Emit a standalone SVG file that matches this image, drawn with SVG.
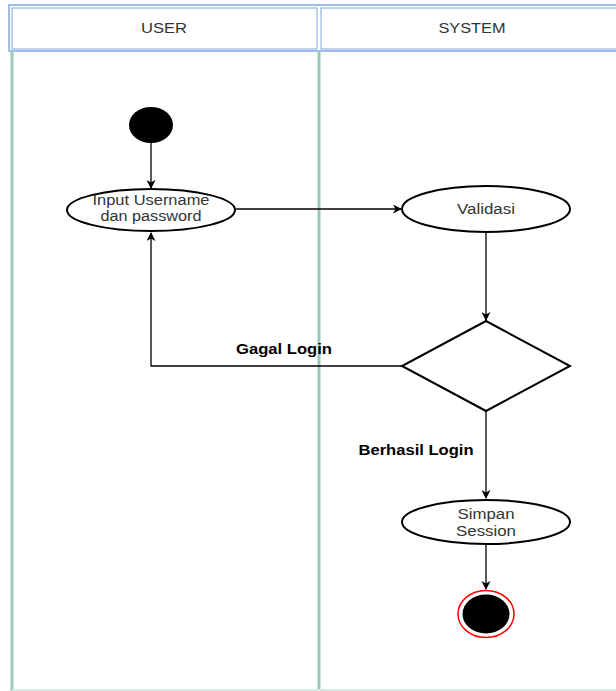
<svg xmlns="http://www.w3.org/2000/svg" width="616" height="691" viewBox="0 0 616 691">
<defs>
<style>
.hdr{fill:#fff;stroke:#7ea6e0;stroke-width:1}
.lane{stroke:#9ac7be;stroke-width:3}
.node{fill:#fff;stroke:#000;stroke-width:2}
.txt{font-family:"Liberation Sans",Arial,sans-serif;font-size:14px;fill:#333;text-anchor:middle}
.lbl{font-family:"Liberation Sans",Arial,sans-serif;font-size:14px;font-weight:bold;fill:#000;text-anchor:middle}
.edge{fill:none;stroke:#000;stroke-width:1.3}
</style>
<marker id="arr" viewBox="0 0 10 10" refX="9" refY="5" markerWidth="9" markerHeight="9" markerUnits="userSpaceOnUse" orient="auto">
<path d="M0,0 L10,5 L0,10 L3,5 Z" fill="#000"/>
</marker>
</defs>
<rect x="0" y="0" width="616" height="691" fill="#fff"/>
<g id="lanes">
<rect x="9" y="5" width="610" height="46" fill="none" stroke="#7ea6e0" stroke-width="1.5"/>
<line class="lane" x1="12" y1="51" x2="12" y2="691"/>
<line class="lane" x1="319" y1="51" x2="319" y2="691"/>
<line x1="12" y1="690" x2="616" y2="690" stroke="#d6ebe6" stroke-width="2"/>
</g>
<g id="header-user">
<rect class="hdr" x="12" y="8" width="305" height="41"/>
<text class="txt" x="164" y="33" textLength="46" lengthAdjust="spacingAndGlyphs">USER</text>
</g>
<g id="header-system">
<rect class="hdr" x="321" y="8" width="300" height="41"/>
<text class="txt" x="472" y="33" textLength="67" lengthAdjust="spacingAndGlyphs">SYSTEM</text>
</g>
<g id="connectors">
<line class="edge" x1="151" y1="143" x2="151" y2="188" marker-end="url(#arr)"/>
<line class="edge" x1="236" y1="209" x2="401" y2="209" marker-end="url(#arr)"/>
<line class="edge" x1="486" y1="233" x2="486" y2="320" marker-end="url(#arr)"/>
<polyline class="edge" points="402,366 151,366 151,233" marker-end="url(#arr)"/>
<line class="edge" x1="486" y1="411" x2="486" y2="498" marker-end="url(#arr)"/>
<line class="edge" x1="486" y1="545" x2="486" y2="589" marker-end="url(#arr)"/>
<text class="lbl" x="284" y="354" textLength="96" lengthAdjust="spacingAndGlyphs">Gagal Login</text>
<text class="lbl" x="416" y="455" textLength="115" lengthAdjust="spacingAndGlyphs">Berhasil Login</text>
</g>
<g id="start">
<ellipse cx="151" cy="125" rx="22" ry="18" fill="#000"/>
</g>
<g id="input">
<ellipse class="node" cx="151" cy="210" rx="84" ry="21"/>
<text class="txt" x="151" y="205" textLength="117" lengthAdjust="spacingAndGlyphs">Input Username</text>
<text class="txt" x="151" y="221" textLength="101" lengthAdjust="spacingAndGlyphs">dan password</text>
</g>
<g id="validasi">
<ellipse class="node" cx="486" cy="209" rx="84" ry="23"/>
<text class="txt" x="486" y="214" textLength="58" lengthAdjust="spacingAndGlyphs">Validasi</text>
</g>
<g id="decision">
<polygon class="node" points="486,321 570,366 486,411 402,366"/>
</g>
<g id="simpan">
<ellipse class="node" cx="486" cy="522" rx="84" ry="22"/>
<text class="txt" x="486" y="519" textLength="57" lengthAdjust="spacingAndGlyphs">Simpan</text>
<text class="txt" x="486" y="536" textLength="60" lengthAdjust="spacingAndGlyphs">Session</text>
</g>
<g id="end">
<ellipse cx="486" cy="614" rx="28" ry="23.5" fill="#fff" stroke="#ff0000" stroke-width="1.5"/>
<ellipse cx="486" cy="614" rx="23.5" ry="19.5" fill="#000"/>
</g>
</svg>
